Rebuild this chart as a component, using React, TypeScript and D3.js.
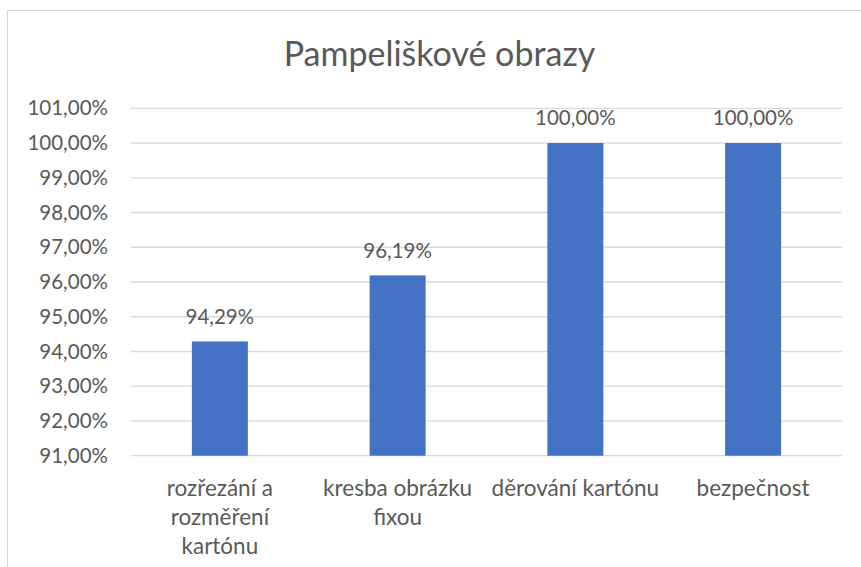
import React, { useEffect, useRef } from "react";
import * as d3 from "d3";

const title = "Pampeliškové obrazy";
const categories = [
  "rozřezání a rozměření kartónu",
  "kresba obrázku fixou",
  "děrování kartónu",
  "bezpečnost",
];
const values = [0.9429, 0.9619, 1.0, 1.0];
const yTicks = [0.91, 0.92, 0.93, 0.94, 0.95, 0.96, 0.97, 0.98, 0.99, 1.0, 1.01];

const fmt = (v: number) => (v * 100).toFixed(2).replace(".", ",") + "%";

const App = () => {
  const svgRef = useRef<SVGSVGElement>(null);

  useEffect(() => {
    const W = 861;
    const H = 567;
    const margin = { top: 108.3, right: 19, bottom: 111.3, left: 131 };
    const width = W - margin.left - margin.right;
    const height = H - margin.top - margin.bottom;
    const font = "Lato, 'Open Sans', sans-serif";
    const textColor = "#595959";

    const root = d3.select(svgRef.current);
    root.selectAll("*").remove();

    // chart frame
    root
      .append("rect")
      .attr("x", 7.5)
      .attr("y", 10.5)
      .attr("width", 900)
      .attr("height", 600)
      .attr("fill", "white")
      .attr("stroke", "#d9d9d9")
      .attr("stroke-width", 1);

    root
      .append("text")
      .attr("x", 439.5)
      .attr("y", 66)
      .attr("text-anchor", "middle")
      .style("font-family", font)
      .style("font-size", "34px")
      .attr("fill", textColor)
      .text(title);

    const svg = root
      .append("g")
      .attr("transform", `translate(${margin.left},${margin.top})`);

    const x = d3
      .scaleBand()
      .domain(categories)
      .range([0, width])
      .paddingInner(0.685)
      .paddingOuter(0.3425);

    const y = d3.scaleLinear().domain([0.91, 1.01]).range([height, 0]);

    // gridlines
    svg
      .append("g")
      .selectAll("line")
      .data(yTicks)
      .enter()
      .append("line")
      .attr("x1", 0)
      .attr("x2", width)
      .attr("y1", (d) => y(d))
      .attr("y2", (d) => y(d))
      .attr("stroke", "#d9d9d9")
      .attr("stroke-width", 1.3);

    // y tick labels
    svg
      .append("g")
      .selectAll("text")
      .data(yTicks)
      .enter()
      .append("text")
      .attr("x", -23)
      .attr("y", (d) => y(d))
      .attr("dy", "0.35em")
      .attr("text-anchor", "end")
      .style("font-family", font)
      .style("font-size", "20.5px")
      .attr("fill", textColor)
      .text((d) => fmt(d));

    svg
      .selectAll(".bar")
      .data(values)
      .enter()
      .append("rect")
      .attr("class", "bar")
      .attr("x", (d, i) => x(categories[i])!)
      .attr("width", x.bandwidth())
      .attr("y", (d) => y(d))
      .attr("height", (d) => y(0.91) - y(d))
      .attr("fill", "#4472c4");

    svg
      .selectAll(".label")
      .data(values)
      .enter()
      .append("text")
      .attr("class", "label")
      .attr("x", (d, i) => x(categories[i])! + x.bandwidth() / 2)
      .attr("y", (d) => y(d) - 25)
      .attr("dy", "0.35em")
      .attr("text-anchor", "middle")
      .style("font-family", font)
      .style("font-size", "20.5px")
      .attr("fill", textColor)
      .text((d) => fmt(d));

    // category labels, wrapped to the band width
    const maxW = 170;
    const catG = svg.append("g");
    categories.forEach((cat) => {
      const cx = x(cat)! + x.bandwidth() / 2;
      const t = catG
        .append("text")
        .attr("x", cx)
        .attr("y", height + 32)
        .attr("text-anchor", "middle")
        .style("font-family", font)
        .style("font-size", "22.5px")
        .attr("fill", textColor);
      const words = cat.split(" ");
      let line: string[] = [];
      let tspan = t.append("tspan").attr("x", cx).attr("dy", "0.35em");
      words.forEach((w) => {
        line.push(w);
        tspan.text(line.join(" "));
        if ((tspan.node() as SVGTSpanElement).getComputedTextLength() > maxW && line.length > 1) {
          line.pop();
          tspan.text(line.join(" "));
          line = [w];
          tspan = t.append("tspan").attr("x", cx).attr("dy", 29).text(w);
        }
      });
    });
  }, []);

  return (
    <svg
      ref={svgRef}
      width={861}
      height={567}
      style={{ position: "absolute", left: 0, top: 0, background: "white" }}
    />
  );
};

export default App;
